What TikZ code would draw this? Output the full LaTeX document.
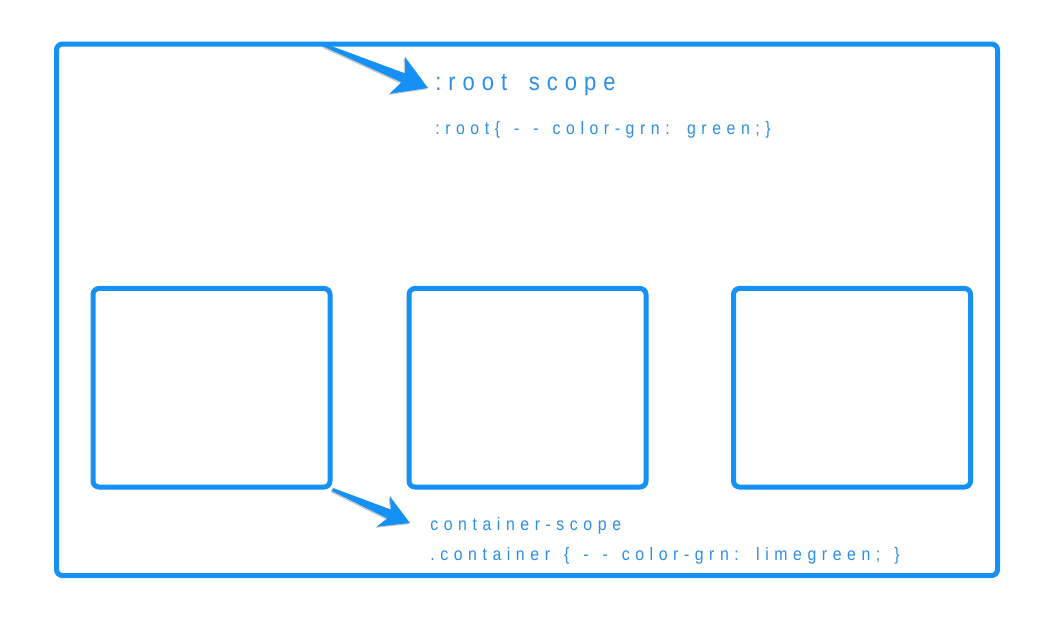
\documentclass[tikz,border=0pt]{standalone}
\usepackage{fontspec}
\usepackage{xcolor}
\usepackage{tikz}
\usetikzlibrary{calc,positioning,shadows}

\definecolor{scopeblue}{HTML}{1591F5}
\definecolor{textblue}{HTML}{2B8EE6}

\newfontfamily\scopetitle[LetterSpace=28,WordSpace=1.65,FakeStretch=0.88]{Liberation Sans}
\newfontfamily\scoperule[LetterSpace=31,WordSpace=1.4,FakeStretch=0.88]{Liberation Sans}

\begin{document}
\begin{tikzpicture}[x=0.75pt,y=-0.75pt,
  frame/.style={draw=scopeblue,line width=3.75pt,rounded corners=4.5pt},
  box/.style={frame,minimum width=177.75pt,minimum height=148.9pt,inner sep=0pt},
  title/.style={anchor=base west,inner sep=0pt,text=textblue,font=\scopetitle\fontsize{18.75pt}{22pt}\selectfont},
  rule/.style={anchor=base west,inner sep=0pt,text=textblue,font=\scoperule\fontsize{13.5pt}{16pt}\selectfont},
  taper/.style n args={3}{fill=scopeblue,draw=none,
    drop shadow={shadow xshift=-0.9pt,shadow yshift=-0.9pt,opacity=0.3,fill=black!70},
    to path={($(\tikztostart)!1.2pt!-90:(\tikztotarget)$)
      -- ($(\tikztotarget)!#1!(\tikztostart)!3.6pt!90:(\tikztostart)$)
      -- ($(\tikztotarget)!#2!(\tikztostart)!#3!90:(\tikztostart)$)
      -- (\tikztotarget)
      -- ($(\tikztotarget)!#2!(\tikztostart)!#3!-90:(\tikztostart)$)
      -- ($(\tikztotarget)!#1!(\tikztostart)!3.6pt!-90:(\tikztostart)$)
      -- ($(\tikztostart)!1.2pt!90:(\tikztotarget)$) -- cycle}}]

\useasboundingbox (0,0) rectangle (1055,619);

\draw[frame] (56.5,44) rectangle (997.5,575.5);% root box

\node[box] (box1) at (211.5,387.75) {};% left container
\node[box] (box2) at (527.5,387.75) {};% middle container
\node[box] (box3) at (852,387.75) {};% right container

\node[title] (rootTitle) at (435,90) {:root scope};
\node[rule] (rootRule) at (435,134) {:root\{ - - color-grn: green;\}};
\node[rule] (contTitle) at (430,530) {container-scope};
\node[rule] (contRule) at (430,560) {.container \{ - - color-grn: limegreen; \}};

\coordinate (rootTail) at (324,45);
\coordinate (rootTip) at (428,88);
\coordinate (contTip) at (410,523);

\fill[taper={20pt}{25pt}{15pt}] (rootTail) to (rootTip);% arrow to root scope
\fill[taper={17pt}{22pt}{12.5pt}] (box1.south east) to (contTip);% arrow to container scope

\end{tikzpicture}
\end{document}
